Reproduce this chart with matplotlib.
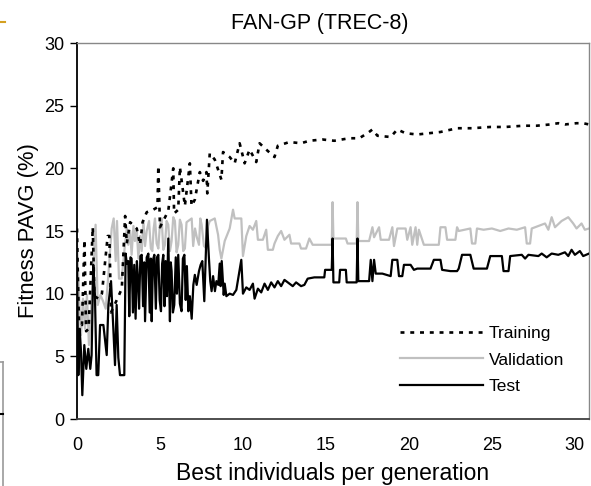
import matplotlib
matplotlib.use("Agg")
import matplotlib.pyplot as plt
from matplotlib.lines import Line2D

plt.rcParams['font.family'] = ['Liberation Sans', 'DejaVu Sans']

# training curve (dotted)
train_x = [0, 0.05, 0.12, 0.3, 0.45, 0.55, 0.7, 0.95, 1.05, 1.3, 1.5, 1.85, 1.95, 2.05,
           2.4, 2.7, 2.9, 3.0, 3.2, 3.6, 3.8, 3.95, 4.2, 4.6, 4.85, 4.9, 5.0, 5.5, 5.8,
           5.85, 6.1, 6.2, 6.5, 6.8, 6.9, 7.1, 7.4, 7.6, 7.8, 7.85, 8.0, 8.3, 8.7, 8.8,
           9.2, 9.5, 9.8, 10.1, 10.4, 10.8, 11.0, 11.4, 11.9, 12.1, 12.8, 13.5, 14.0,
           14.8, 15.5, 16.4, 17.0, 17.5, 17.8, 18.1, 18.9, 19.3, 19.8, 20.5, 21.2, 21.9,
           22.9, 23.8, 24.9, 25.8, 26.9, 27.7, 28.5, 29.0, 29.4, 30.1, 30.5, 30.85]
train_y = [15.2, 11.5, 7.7, 7.5, 14.3, 7.0, 7.2, 15.3, 9.8, 9.6, 10.0, 14.6, 14.6, 8.5,
           9.5, 10.4, 16.2, 14.0, 15.7, 15.2, 13.9, 15.7, 16.5, 16.7, 16.9, 20.2, 15.3,
           16.6, 20.0, 16.4, 16.7, 20.1, 17.0, 20.4, 17.0, 17.5, 19.7, 19.0, 19.7, 18.0,
           21.2, 20.7, 19.1, 21.3, 20.9, 20.4, 22.0, 20.4, 21.5, 20.5, 22.0, 21.5, 20.9,
           21.8, 22.1, 22.0, 22.2, 22.3, 22.2, 22.4, 22.4, 22.8, 23.1, 22.6, 22.5, 23.1,
           22.8, 22.7, 22.8, 22.9, 23.2, 23.2, 23.3, 23.3, 23.4, 23.4, 23.5, 23.6, 23.5,
           23.6, 23.6, 23.5]

# validation curve (grey)
val_x = [0, 0.12, 0.24, 0.36, 0.48, 0.6, 0.72, 0.84, 0.98, 1.12, 1.25, 1.41, 1.57, 1.73,
         1.89, 2.09, 2.21, 2.33, 2.41, 2.53, 2.69, 2.89, 3.0, 3.09, 3.2, 3.29, 3.4, 3.49,
         3.6, 3.7, 3.8, 3.9, 4.0, 4.1, 4.2, 4.34, 4.45, 4.54, 4.62, 4.7, 4.8, 4.9, 5.0,
         5.1, 5.2, 5.3, 5.4, 5.5, 5.6, 5.7, 5.8, 5.9, 6.0, 6.1, 6.2, 6.3, 6.4, 6.5, 6.6,
         6.7, 6.91, 7.0, 7.11, 7.22, 7.35, 7.43, 7.51, 7.65, 7.81, 7.9, 8.0, 8.15, 8.3,
         8.5, 8.6, 8.7, 8.9, 9.2, 9.4, 9.5, 9.9, 10.0, 10.2,
         10.4, 10.6, 10.8, 10.9, 11.2, 11.4, 11.5, 11.8, 11.9, 12.1, 12.3, 12.5, 12.8,
         12.9, 13.4, 13.5, 13.8, 14.0, 14.2, 15.35, 15.4, 15.45, 16.2, 16.3, 16.85, 16.9,
         16.95, 17.6, 17.8, 17.9, 18.2, 18.3, 18.8, 19.0, 19.1, 19.3, 19.8, 19.9, 20.1,
         20.2, 20.4, 20.5, 20.6, 20.9, 21.8, 21.9, 22.2, 22.3, 22.8, 22.9, 23.0, 23.7,
         23.8, 24.0, 24.1, 24.5, 25.0, 25.5, 26.0, 26.5, 27.0, 27.1, 27.3, 27.4, 27.8,
         28.2, 28.4, 28.6, 28.8, 29.2, 29.6, 29.9, 30.1, 30.4, 30.6, 30.85]
val_y = [14.0, 9.9, 6.7, 9.6, 7.2, 9.9, 5.9, 8.6, 11.8, 15.5, 9.1, 9.9, 9.4, 8.8,
         11.5, 15.2, 16.0, 12.6, 15.8, 11.2, 11.2, 13.9, 15.2, 13.9, 15.0, 13.1, 15.4, 14.2,
         15.1, 12.8, 14.6, 13.4, 15.8, 13.8, 15.0, 15.8, 13.6, 13.4, 15.2, 16.0, 14.0, 13.6,
         15.6, 16.0, 13.5, 13.9, 15.8, 15.5, 13.4, 14.2, 16.1, 15.8, 13.3, 13.9, 15.9, 15.5,
         13.4, 13.6, 15.7, 15.8, 16.0, 13.8, 15.2, 14.5, 13.9, 16.0, 15.5, 13.8, 13.6, 15.4,
         15.8, 15.9, 16.0, 14.7, 13.5, 12.8, 14.2, 15.2,
         16.7, 16.0, 16.0, 13.0, 14.6, 15.4, 15.1, 15.8, 14.3, 14.3, 15.1, 13.5, 13.5,
         14.0, 14.6, 15.0, 14.3, 14.7, 14.0, 14.0, 13.6, 13.6, 14.4, 13.9, 13.9, 17.3,
         14.4, 14.4, 14.0, 14.0, 17.3, 14.2, 14.2, 15.3, 14.5, 15.3, 14.3, 14.3, 15.3,
         13.8, 15.2, 15.2, 14.3, 15.3, 13.9, 15.3, 13.9, 15.1, 13.9, 13.9, 15.3, 15.3,
         14.3, 14.3, 15.3, 15.0, 15.2, 14.0, 14.0, 15.2, 15.1, 15.2, 15.0, 15.2, 15.1,
         15.3, 14.0, 14.0, 15.2, 15.4, 15.6, 15.1, 16.1, 15.3, 15.8, 16.1, 15.6, 15.2,
         15.6, 15.1, 15.2]

# test curve (black)
test_x = [0.0, 0.08, 0.16, 0.24, 0.32, 0.44, 0.56, 0.68, 0.8, 0.88, 0.98, 1.08, 1.18,
          1.28, 1.39, 1.59, 1.79, 1.89, 2.05, 2.19, 2.29, 2.39, 2.49, 2.59, 2.85, 2.93,
          3.0, 3.09, 3.15, 3.22, 3.29, 3.37, 3.45, 3.53, 3.61, 3.68, 3.74, 3.82, 3.9,
          3.98, 4.05, 4.1, 4.2, 4.3, 4.38, 4.45, 4.5, 4.58, 4.66, 4.75, 4.82, 4.9, 4.98,
          5.06, 5.13, 5.2, 5.27, 5.34, 5.42, 5.5, 5.6, 5.65, 5.7, 5.78, 5.86, 5.95, 6.02,
          6.1, 6.2, 6.3, 6.38, 6.47, 6.55, 6.62, 6.71, 6.8, 6.91, 7.01, 7.1, 7.21, 7.35,
          7.45, 7.55, 7.67, 7.75, 7.83, 7.95, 8.03, 8.11, 8.2, 8.31, 8.4, 8.51, 8.6, 8.65,
          8.72, 8.84, 8.9, 9.0, 9.2, 9.4, 9.6,
          9.9, 10.0, 10.2, 10.4, 10.6, 10.7, 10.9, 11.1, 11.3, 11.5, 11.7, 11.9, 12.1,
          12.3, 12.5, 12.8, 13.0, 13.2, 13.5, 13.7, 13.9, 14.3, 14.9, 14.95, 15.35, 15.4,
          15.45, 15.8, 15.85, 16.2, 16.25, 16.85, 16.9, 16.95, 17.6, 17.7, 17.8, 17.9,
          18.0, 18.4, 18.9, 19.0, 19.3, 19.4, 19.6, 19.7, 20.1, 20.3, 20.5, 21.3, 21.5,
          21.9, 22.0, 22.5, 22.9, 23.0, 23.2, 23.7, 23.9, 24.7, 24.9, 25.6, 25.7, 26.0,
          26.1, 26.8, 27.0, 27.2, 27.8, 28.0, 28.3, 28.6, 29.0, 29.4, 29.6, 29.8, 30.0,
          30.3, 30.5, 30.85]
test_y = [12.0, 3.5, 7.2, 5.4, 1.9, 5.9, 4.0, 5.6, 4.0, 5.1, 12.3, 9.9, 3.5,
          3.5, 7.5, 7.5, 5.1, 9.1, 11.0, 7.2, 4.3, 9.1, 4.9, 3.5, 3.5, 13.2,
          12.4, 12.6, 8.2, 12.9, 12.8, 8.5, 12.3, 8.0, 12.6, 11.0, 8.8, 13.0, 13.1,
          9.0, 12.5, 7.8, 12.9, 13.2, 8.5, 12.8, 7.8, 12.7, 13.1, 8.8, 12.9, 13.1, 9.5,
          8.6, 12.4, 13.1, 9.0, 12.6, 9.8, 14.4, 7.8, 12.5, 11.8, 8.5, 9.1, 12.9, 10.0,
          13.1, 9.2, 8.6, 12.8, 13.1, 9.5, 12.2, 8.6, 9.8, 8.0, 10.7, 11.5, 10.7, 11.8,
          12.3, 12.6, 9.4, 12.6, 15.9, 12.8, 11.0, 10.2, 11.4, 10.2, 11.0, 10.7, 12.4, 10.6,
          12.6, 9.9, 10.8, 9.8, 10.0, 9.9, 10.3,
          12.7, 10.0, 10.5, 10.3, 10.8, 9.6, 10.4, 10.1, 10.8, 10.3, 10.9, 10.5, 11.0,
          10.6, 11.1, 10.8, 10.6, 10.9, 10.6, 10.7, 11.2, 11.3, 11.3, 11.9, 11.9, 14.4,
          10.9, 10.9, 11.9, 11.9, 10.9, 10.9, 14.4, 11.0, 11.0, 12.7, 11.0, 12.7,
          11.6, 11.6, 11.4, 12.7, 12.7, 11.4, 11.4, 12.3, 12.3, 11.9, 12.0, 12.0, 12.7,
          12.7, 11.9, 11.8, 11.8, 12.0, 13.1, 13.1, 12.0, 12.0, 13.0, 13.0, 11.8, 11.8,
          13.0, 13.1, 12.8, 13.1, 13.0, 13.2, 12.9, 13.2, 13.1, 13.3, 13.0, 13.5, 13.1,
          13.4, 13.0, 13.2]

fig = plt.figure(figsize=(5.91, 4.86), dpi=100)
ax = fig.add_axes([77/591, 67/486, 512/591, 376/486])

ax.plot(val_x, val_y, color='#c0c0c0', lw=1.6, label='Validation', zorder=2)
ax.plot(test_x, test_y, color='black', lw=1.6, label='Test', zorder=3)
ax.plot(train_x, train_y, color='black', lw=1.9, ls=(0, (1.5, 2.2)),
        label='Training', zorder=4)

ax.set_xlim(0, 30.85)
ax.set_ylim(0, 30)
ax.set_xticks([0, 5, 10, 15, 20, 25, 30])
ax.set_yticks([0, 5, 10, 15, 20, 25, 30])
ax.tick_params(axis='x', length=0, pad=13, labelsize=13)
ax.tick_params(axis='y', length=5, width=1, direction='out', pad=4, labelsize=13)

ax.spines['left'].set_color('black')
ax.spines['left'].set_linewidth(1.3)
ax.spines['bottom'].set_color('#404040')
ax.spines['bottom'].set_linewidth(1.3)
for s in ['top', 'right']:
    ax.spines[s].set_color('#888888')
    ax.spines[s].set_linewidth(1.0)

ax.set_xlabel('Best individuals per generation', fontsize=16.5, labelpad=6)
ax.set_ylabel('Fitness PAVG (%)', fontsize=15.8, labelpad=4)
fig.text(320/591, 1 - 24/486, 'FAN-GP (TREC-8)', fontsize=15.5, ha='center', va='center')

h, l = ax.get_legend_handles_labels()
order = [2, 0, 1]
ax.legend([h[i] for i in order], [l[i] for i in order], frameon=False,
          loc='center left', bbox_to_anchor=(400/591, 1 - 360/486),
          bbox_transform=fig.transFigure, borderpad=0, borderaxespad=0,
          handlelength=4.8, handletextpad=0.3, labelspacing=0.65, fontsize=12.5)

# bits of the neighbouring figure cut at the left edge
fig.add_artist(Line2D([0, 5/591], [1 - 22/486, 1 - 22/486], color='#d4a020', lw=1.5))
fig.add_artist(Line2D([2.5/591, 2.5/591], [0, 1 - 362/486], color='#999999', lw=1.2))
fig.add_artist(Line2D([0, 2.5/591], [1 - 362/486, 1 - 362/486], color='#999999', lw=1.2))
fig.add_artist(Line2D([0, 3/591], [1 - 414/486, 1 - 414/486], color='black', lw=1.5))

fig.savefig('out.png', dpi=100)
